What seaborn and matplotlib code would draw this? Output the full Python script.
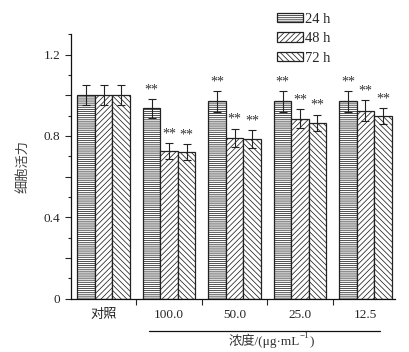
import numpy as np
import pandas as pd
import matplotlib
matplotlib.use('Agg')
import matplotlib.pyplot as plt
import matplotlib.ticker as mticker
from matplotlib.patches import Patch
import seaborn as sns

# data
groups = ['对照', '100.0', '50.0', '25.0', '12.5']
times = ['24 h', '48 h', '72 h']
v24 = [1.00, 0.935, 0.97, 0.97, 0.97]
v48 = [1.00, 0.725, 0.79, 0.885, 0.925]
v72 = [1.00, 0.72, 0.785, 0.865, 0.897]
e24 = [0.05, 0.045, 0.05, 0.05, 0.05]
e48 = [0.05, 0.04, 0.046, 0.045, 0.05]
e72 = [0.05, 0.04, 0.042, 0.04, 0.04]
stars24 = ['', '**', '**', '**', '**']
stars48 = ['', '**', '**', '**', '**']
stars72 = ['', '**', '**', '**', '**']

values = [v24, v48, v72]
errors = [e24, e48, e72]
stars = [stars24, stars48, stars72]
hatches = ['--------', '//////', '\\\\\\\\\\\\']

df = pd.DataFrame({
    'group': groups * 3,
    'time': [t for t in times for _ in groups],
    'value': v24 + v48 + v72,
})

sns.set_style('ticks')
plt.rcParams['font.family'] = ['Liberation Serif', 'Noto Sans CJK SC']
plt.rcParams['hatch.linewidth'] = 0.55
plt.rcParams['hatch.color'] = '#444444'

fig = plt.figure(figsize=(4.1, 3.52), dpi=100)
ax = fig.add_axes([0.173, 0.151, 0.79, 0.752])

sns.barplot(data=df, x='group', y='value', hue='time', order=groups,
            hue_order=times, errorbar=None, width=0.8, color='white',
            edgecolor='#222222', linewidth=0.9, ax=ax, legend=False)

for cont, h, err, st in zip(ax.containers, hatches, errors, stars):
    for bar, e, s in zip(cont, err, st):
        bar.set_facecolor('white')
        bar.set_hatch(h)
        xc = bar.get_x() + bar.get_width() / 2
        top = bar.get_height()
        ax.errorbar(xc, top, yerr=e, color='#222222', lw=0.8,
                    capsize=3, capthick=0.8)
        if s:
            ax.annotate(s, (xc, top + e), xytext=(0, 2),
                        textcoords='offset points', ha='center',
                        va='bottom', fontsize=10, color='#333333')

ax.set_xlim(-0.5, 4.45)
ax.set_ylim(0, 1.3)
ax.yaxis.set_major_locator(mticker.MultipleLocator(0.2))
ax.yaxis.set_minor_locator(mticker.MultipleLocator(0.1))
ax.yaxis.set_major_formatter(mticker.FuncFormatter(
    lambda v, p: ('0' if abs(v) < 1e-9 else f'{v:.1f}') if round(v / 0.4, 6) % 1 == 0 else ''))
ax.tick_params(axis='y', which='major', length=4, width=0.8, labelsize=9.5, direction='out')
ax.tick_params(axis='y', which='minor', length=2, width=0.8, direction='out')

ax.set_xticks(range(len(groups)))
ax.set_xticklabels(groups)
ax.set_xticks([0.5, 1.5, 2.5, 3.5], minor=True)
ax.tick_params(axis='x', which='major', length=0, pad=7, labelsize=9.5)
ax.tick_params(axis='x', which='minor', length=4, width=0.8, direction='out')

sns.despine(ax=ax)
for sp in ['left', 'bottom']:
    ax.spines[sp].set_linewidth(0.9)
    ax.spines[sp].set_color('#111111')

ax.set_xlabel('')
ax.set_ylabel('细胞活力', fontsize=9.5, color='#444444', labelpad=10)

# bracket line under concentration labels and axis title
ax.plot([0.70, 4.23], [-0.122, -0.122], transform=ax.get_xaxis_transform(),
        color='#111111', lw=0.9, clip_on=False)
t1 = ax.text(2.45, -0.158, '浓度/(μg·mL', transform=ax.get_xaxis_transform(),
             ha='center', va='center', fontsize=9.5, color='#333333')
t2 = ax.annotate('−1', xy=(1, 0.55), xycoords=t1, ha='left', va='bottom',
                 fontsize=6.5, color='#333333')
ax.annotate(')', xy=(1, 0), xycoords=(t2, t1), ha='left', va='bottom',
            fontsize=9.5, color='#333333')

handles = [Patch(facecolor='white', edgecolor='#222222', hatch=h, lw=0.9) for h in hatches]
fig.legend(handles, times, loc='upper left', bbox_to_anchor=(0.657, 0.985),
           frameon=False, fontsize=10.5, handlelength=1.8, handleheight=0.65,
           handletextpad=0.15, labelspacing=0.45, borderpad=0)

fig.savefig('out.png', dpi=100)
